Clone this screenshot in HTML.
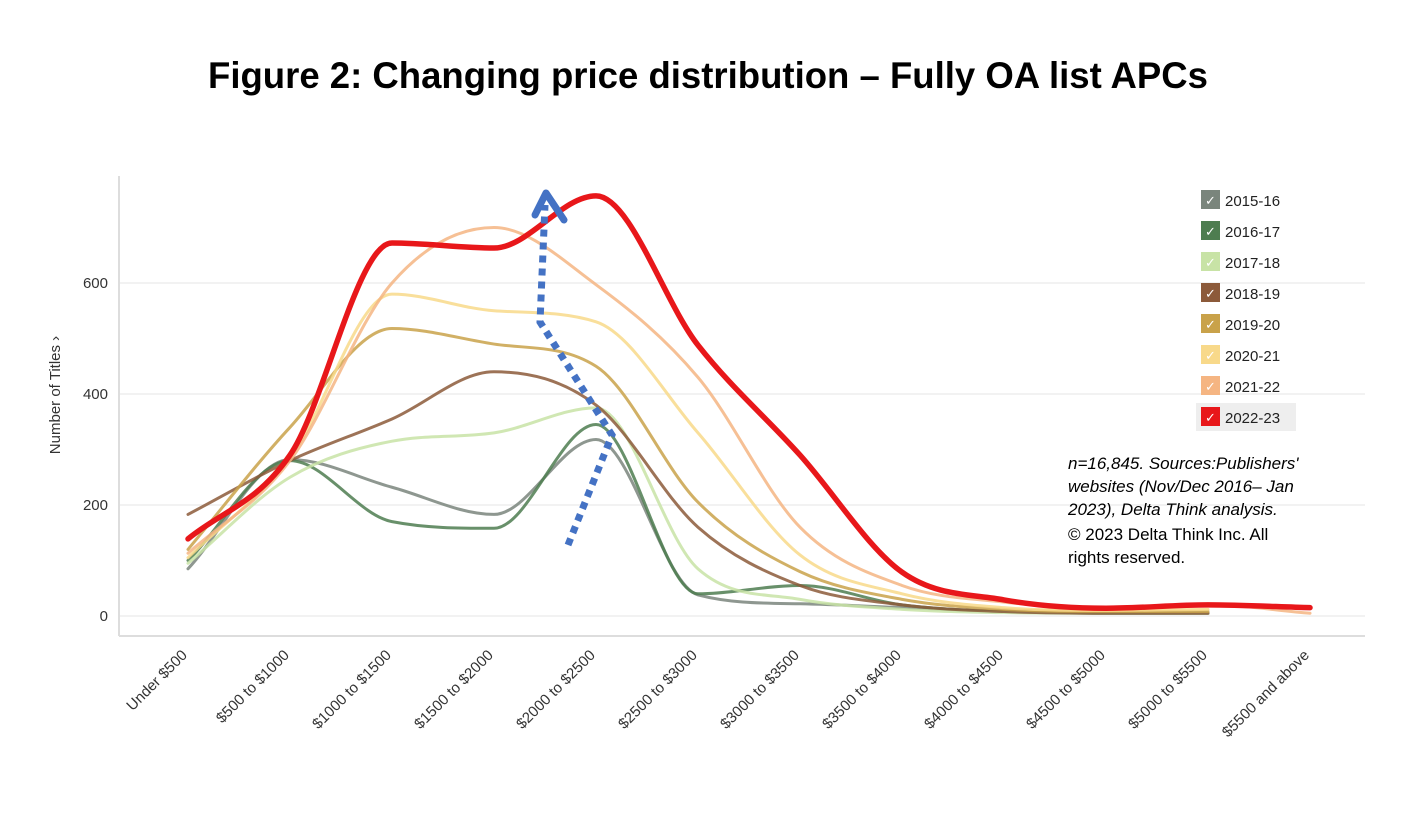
<!DOCTYPE html>
<html><head><meta charset="utf-8"><style>
body{margin:0;background:#fff;width:1416px;height:818px;overflow:hidden;font-family:"Liberation Sans",sans-serif}
</style></head><body>
<svg id="chart" width="1416" height="818" xmlns="http://www.w3.org/2000/svg">
<text x="708" y="88" text-anchor="middle" font-size="37" font-weight="bold" textLength="1000" lengthAdjust="spacingAndGlyphs" fill="#000">Figure 2: Changing price distribution – Fully OA list APCs</text>
<g id="grid"></g>
<line x1="119" y1="176" x2="119" y2="636" stroke="#ddd" stroke-width="2"/>
<line x1="119" y1="636" x2="1365" y2="636" stroke="#ddd" stroke-width="2"/>
<text transform="translate(60,395) rotate(-90)" text-anchor="middle" font-size="15" fill="#333">Number of Titles ›</text>
<g id="yticks"></g>
<g id="xticks"></g>
<g id="series"></g>
<g>
<polyline points="568,545 612,435 540,322 545,205" fill="none" stroke="#4472c4" stroke-width="7" stroke-dasharray="7,6"/>
<polyline points="535,215 546,193 564,220" fill="none" stroke="#4472c4" stroke-width="7" stroke-linecap="round" stroke-linejoin="round"/>
</g>
<g id="legend"></g>
<g font-size="17" fill="#000">
<text x="1068" y="469" font-style="italic">n=16,845. Sources:Publishers'</text>
<text x="1068" y="492" font-style="italic">websites (Nov/Dec 2016– Jan</text>
<text x="1068" y="515" font-style="italic">2023), Delta Think analysis.</text>
<text x="1068" y="540">© 2023 Delta Think Inc. All</text>
<text x="1068" y="563">rights reserved.</text>
</g>
</svg>
<script>
const categories=["Under $500","$500 to $1000","$1000 to $1500","$1500 to $2000","$2000 to $2500","$2500 to $3000","$3000 to $3500","$3500 to $4000","$4000 to $4500","$4500 to $5000","$5000 to $5500","$5500 and above"];
const yTicks=[0,200,400,600];
const seriesNames=["2015-16","2016-17","2017-18","2018-19","2019-20","2020-21","2021-22","2022-23"];
const s2015=[85,282,232,183,318,38,22,15,8,5,5];
const s2016=[100,280,170,158,345,40,55,20,8,5,5];
const s2017=[95,250,315,330,375,85,30,12,6,5,5];
const s2018=[183,280,355,440,380,160,55,20,8,5,5];
const s2019=[120,340,518,490,450,205,80,30,12,8,8];
const s2020=[105,285,580,550,530,330,110,40,15,10,12];
const s2021=[113,280,600,700,597,430,160,55,25,15,20,5];
const s2022=[139,290,672,663,757,488,290,79,29,14,20,15];
const colors=["#7a857c","#4e7d50","#c8e3a6","#8c5a3a","#c9a24a","#f8d98a","#f5b582","#e8171a"];
const widths=[3,3,3,3,3,3,3,5.5];
const seriesData=[s2015,s2016,s2017,s2018,s2019,s2020,s2021,s2022];
const NS="http://www.w3.org/2000/svg";
const xs=i=>188+102*i, ys=v=>616-0.555*v;
function mk(t,a,p){const e=document.createElementNS(NS,t);for(const k in a)e.setAttribute(k,a[k]);p.appendChild(e);return e;}
const grid=document.getElementById('grid'),yt=document.getElementById('yticks');
yTicks.forEach(v=>{
 const l=mk('line',{x1:119,x2:1365,y1:ys(v),y2:ys(v),stroke:'#eee','stroke-width':1.5},grid);
 
 
 const t=mk('text',{x:108,y:ys(v)+5,'text-anchor':'end','font-size':15,fill:'#333'},yt);t.textContent=v;
 
 
});
const xt=document.getElementById('xticks');
categories.forEach((c,i)=>{
 const t=mk('text',{transform:`translate(${xs(i)},${656}) rotate(-45)`,'text-anchor':'end','font-size':15,fill:'#333'},xt);t.textContent=c;
 
 
});
function pathFor(d){
 const p=d.map((v,i)=>[xs(i),ys(v)]);const n=p.length;
 const dl=[];for(let i=0;i<n-1;i++)dl.push((p[i+1][1]-p[i][1])/(p[i+1][0]-p[i][0]));
 const m=[];for(let i=0;i<n;i++){
  if(i==0)m.push(dl[0]);else if(i==n-1)m.push(dl[n-2]);
  else if(dl[i-1]*dl[i]<=0)m.push(0);else m.push((dl[i-1]+dl[i])/2);}
 for(let i=0;i<n-1;i++){if(dl[i]==0){m[i]=0;m[i+1]=0;continue;}
  const a=m[i]/dl[i],b=m[i+1]/dl[i],s=a*a+b*b;if(s>9){const t=3/Math.sqrt(s);m[i]=t*a*dl[i];m[i+1]=t*b*dl[i];}}
 let s=`M${p[0][0]},${p[0][1]}`;
 for(let i=0;i<n-1;i++){const h=(p[i+1][0]-p[i][0])/3;
  s+=` C${p[i][0]+h},${p[i][1]+m[i]*h} ${p[i+1][0]-h},${p[i+1][1]-m[i+1]*h} ${p[i+1][0]},${p[i+1][1]}`;}
 return s;}
const sg=document.getElementById('series');
seriesData.forEach((d,k)=>{
 const p=mk('path',{d:pathFor(d),fill:'none',stroke:colors[k],'stroke-width':widths[k],opacity:k==7?1:0.85,'stroke-linecap':'round'},sg);
 
 
});
const lg=document.getElementById('legend');
mk('rect',{x:1196,y:403,width:100,height:28,fill:'#eee'},lg);
seriesNames.forEach((n,k)=>{
 const y=190+31*k;
 const g=mk('g',{},lg);
 
 
 mk('rect',{x:1201,y:y,width:19,height:19,fill:colors[k]},g);
 const c=mk('text',{x:1210.5,y:y+15,'text-anchor':'middle','font-size':13,fill:'#fff'},g);c.textContent='✓';
 const t=mk('text',{x:1225,y:y+16,'font-size':15,fill:'#222'},g);t.textContent=n;
});
</script>
</body></html>
